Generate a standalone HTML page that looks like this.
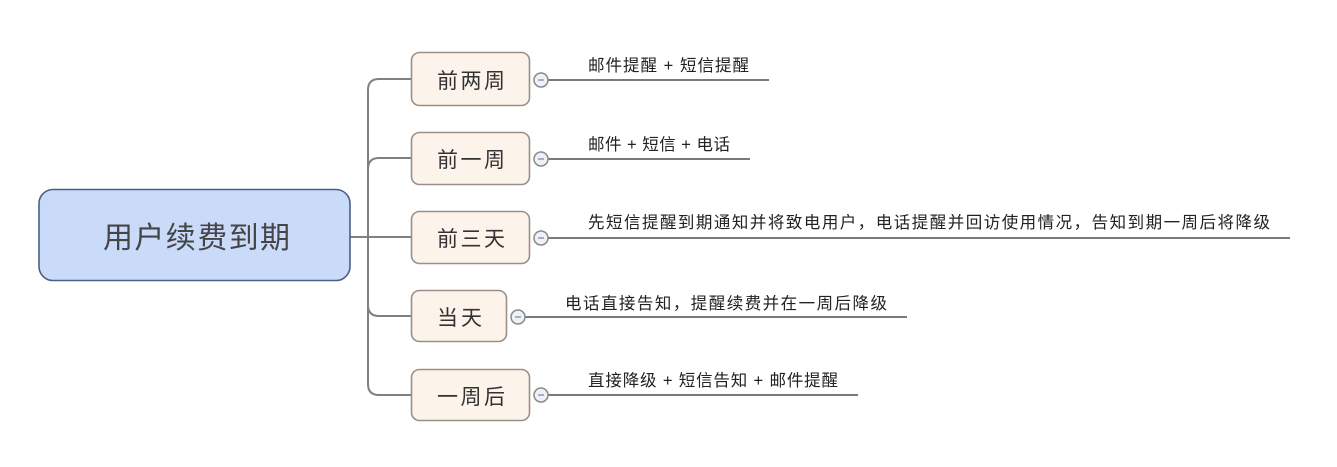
<!DOCTYPE html>
<html>
<head>
<meta charset="utf-8">
<style>
  html,body{margin:0;padding:0;background:#fff;}
  body{width:1337px;height:467px;overflow:hidden;}
  svg{display:block;}
  text{font-family:"Liberation Sans","Noto Sans CJK SC","WenQuanYi Zen Hei",sans-serif;}
</style>
</head>
<body>
<svg width="1337" height="467" viewBox="0 0 1337 467" xmlns="http://www.w3.org/2000/svg">
  <!-- connectors -->
  <g fill="none" stroke="#808080" stroke-width="2">
    <path d="M350 237 H411"/>
    <path d="M411 79 H379 Q368 79 368 90 V384 Q368 395 379 395 H411"/>
    <path d="M411 158 H379 Q368 158 368 169"/>
    <path d="M368 305 Q368 316 379 316 H411"/>
  </g>

  <!-- root -->
  <rect x="39" y="189.5" width="311" height="91" rx="14" ry="14" fill="#c9dbf9" stroke="#4b5f86" stroke-width="1.6"/>
  <text x="103" y="248" font-size="30" fill="#454545" textLength="187" lengthAdjust="spacing">用户续费到期</text>

  <!-- branch boxes -->
  <g fill="#fcf3ea" stroke="#9b8f88" stroke-width="1.6">
    <rect x="411.5" y="52.5" width="118" height="53" rx="8"/>
    <rect x="411.5" y="132.5" width="118" height="52" rx="8"/>
    <rect x="411.5" y="211.5" width="118" height="52" rx="8"/>
    <rect x="411.5" y="290.5" width="95" height="51" rx="8"/>
    <rect x="411.5" y="369.5" width="118" height="51" rx="8"/>
  </g>
  <g font-size="21" fill="#333">
    <text x="437" y="88" textLength="68" lengthAdjust="spacing">前两周</text>
    <text x="437" y="167" textLength="68" lengthAdjust="spacing">前一周</text>
    <text x="437" y="246" textLength="68" lengthAdjust="spacing">前三天</text>
    <text x="437" y="325" textLength="45" lengthAdjust="spacing">当天</text>
    <text x="437" y="404" textLength="68" lengthAdjust="spacing">一周后</text>
  </g>

  <!-- underlines -->
  <g stroke="#7a7a7a" stroke-width="2" fill="none">
    <path d="M548 80 H769"/>
    <path d="M548 159 H750"/>
    <path d="M548 238 H1290"/>
    <path d="M525 317 H907"/>
    <path d="M548 395 H858"/>
  </g>

  <!-- collapse circles -->
  <g stroke="#8a8a8a" stroke-width="1.5" fill="#eef1f7">
    <circle cx="541" cy="80" r="7"/>
    <circle cx="541" cy="159" r="7"/>
    <circle cx="541" cy="238" r="7"/>
    <circle cx="518" cy="317" r="7"/>
    <circle cx="541" cy="395" r="7"/>
  </g>
  <g stroke="#7d8aa8" stroke-width="1.3">
    <path d="M538 80 H544"/>
    <path d="M538 159 H544"/>
    <path d="M538 238 H544"/>
    <path d="M515 317 H521"/>
    <path d="M538 395 H544"/>
  </g>

  <!-- leaf texts -->
  <g font-size="16.5" fill="#222">
    <text x="588" y="71" textLength="161" lengthAdjust="spacing">邮件提醒 + 短信提醒</text>
    <text x="588" y="150" textLength="142" lengthAdjust="spacing">邮件 + 短信 + 电话</text>
    <text x="588" y="228" textLength="682" lengthAdjust="spacing">先短信提醒到期通知并将致电用户，电话提醒并回访使用情况，告知到期一周后将降级</text>
    <text x="565" y="309" textLength="322" lengthAdjust="spacing">电话直接告知，提醒续费并在一周后降级</text>
    <text x="588" y="386" textLength="250" lengthAdjust="spacing">直接降级 + 短信告知 + 邮件提醒</text>
  </g>
</svg>
</body>
</html>
